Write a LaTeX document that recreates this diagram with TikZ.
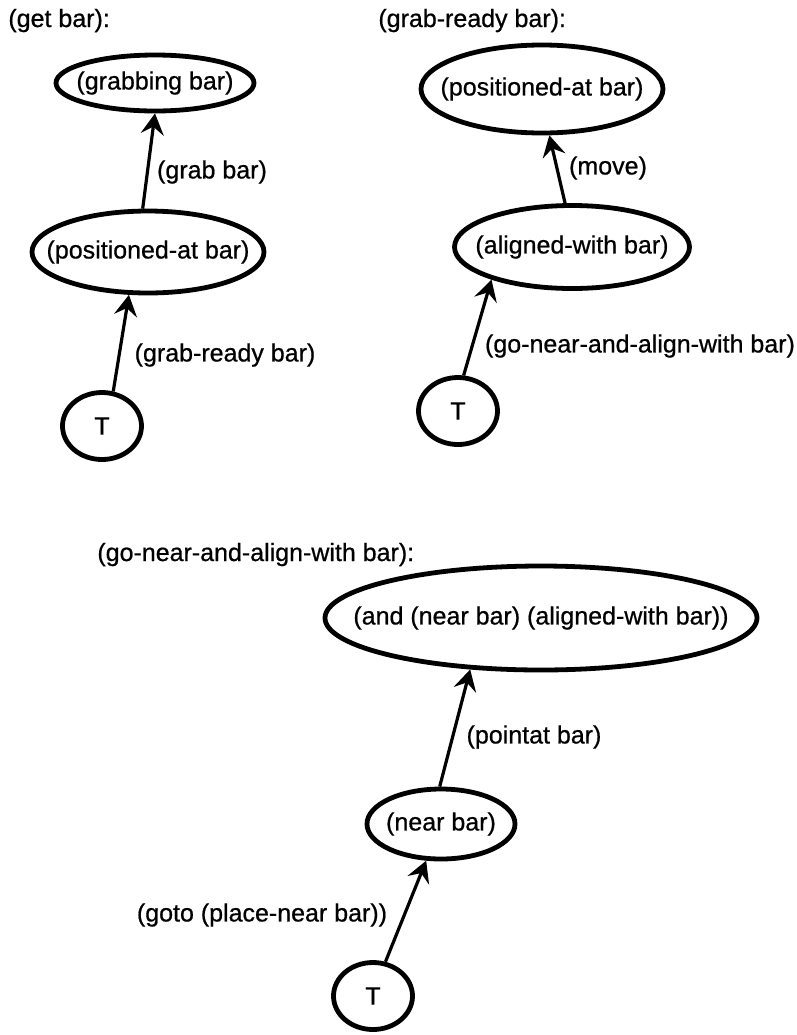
\documentclass[tikz,border=0pt]{standalone}
\usepackage{fontspec}
\setmainfont{Liberation Sans}[FakeBold=0.7]
\usetikzlibrary{shapes.geometric}
\usetikzlibrary{arrows.meta}
\newcommand{\goaltext}[1]{\makebox[0pt]{#1}}
\tikzset{
   goal/.style={ellipse, draw, line width=2.4pt, inner sep=0pt,
           font=\fontsize{12.5pt}{15pt}\selectfont},
   topnode/.style={goal, minimum width=39.5pt, minimum height=33.5pt},
   txt/.style={inner sep=0pt, font=\fontsize{12.5pt}{15pt}\selectfont},
   plan/.style={-{Stealth[length=10.5pt, width=11.5pt, inset=3.8pt]}, line width=1.6pt}
}

\begin{document}
\begin{tikzpicture}[x=0.5pt, y=-0.5pt]
    \useasboundingbox (0,0) rectangle (797,1035);

    % (get bar)
    \node[txt, anchor=base west] (getHead) at (8,27) {(get bar):};
    \node[goal, minimum width=99pt, minimum height=28pt] (grabbing) at (155,83) {\goaltext{(grabbing bar)}};
    \node[goal, minimum width=116pt, minimum height=41pt] (posL) at (148,252) {\goaltext{(positioned-at bar)}};
    \node[topnode] (tL) at (102,426) {T};
    \draw[plan] (tL.72) -- (posL.246);
    \draw[plan] (posL.97) -- (grabbing.270);
    \node[txt] (grabLbl) at (212,172) {(grab bar)};
    \node[txt] (readyLbl) at (225,355) {(grab-ready bar)};

    % (grab-ready bar)
    \node[txt, anchor=base west] (readyHead) at (378,27) {(grab-ready bar):};
    \node[goal, minimum width=121pt, minimum height=44pt] (posR) at (542,89) {\goaltext{(positioned-at bar)}};
    \node[goal, minimum width=117.5pt, minimum height=41.5pt] (aligned) at (572,247) {\goaltext{(aligned-with bar)}};
    \node[topnode] (tR) at (458,411) {T};
    \draw[plan] (tR.81) -- (aligned.202);
    \draw[plan] (aligned.99) -- (posR.279);
    \node[txt] (moveLbl) at (608,168) {(move)};
    \node[txt] (alignLbl) at (640,346) {(go-near-and-align-with bar)};

    % (go-near-and-align-with bar)
    \node[txt, anchor=base west] (alignHead) at (97,561) {(go-near-and-align-with bar):};
    \node[goal, minimum width=216pt, minimum height=52pt] (andGoal) at (541,618) {\goaltext{(and (near bar) (aligned-with bar))}};
    \node[goal, minimum width=74pt, minimum height=35pt] (near) at (441,824) {\goaltext{(near bar)}};
    \node[topnode] (tB) at (373,996) {T};
    \draw[plan] (tB.70) -- (near.248);
    \draw[plan] (near.92) -- (andGoal.216);
    \node[txt] (pointLbl) at (534,737) {(pointat bar)};
    \node[txt] (gotoLbl) at (262,915) {(goto (place-near bar))};

  \end{tikzpicture}
\end{document}
